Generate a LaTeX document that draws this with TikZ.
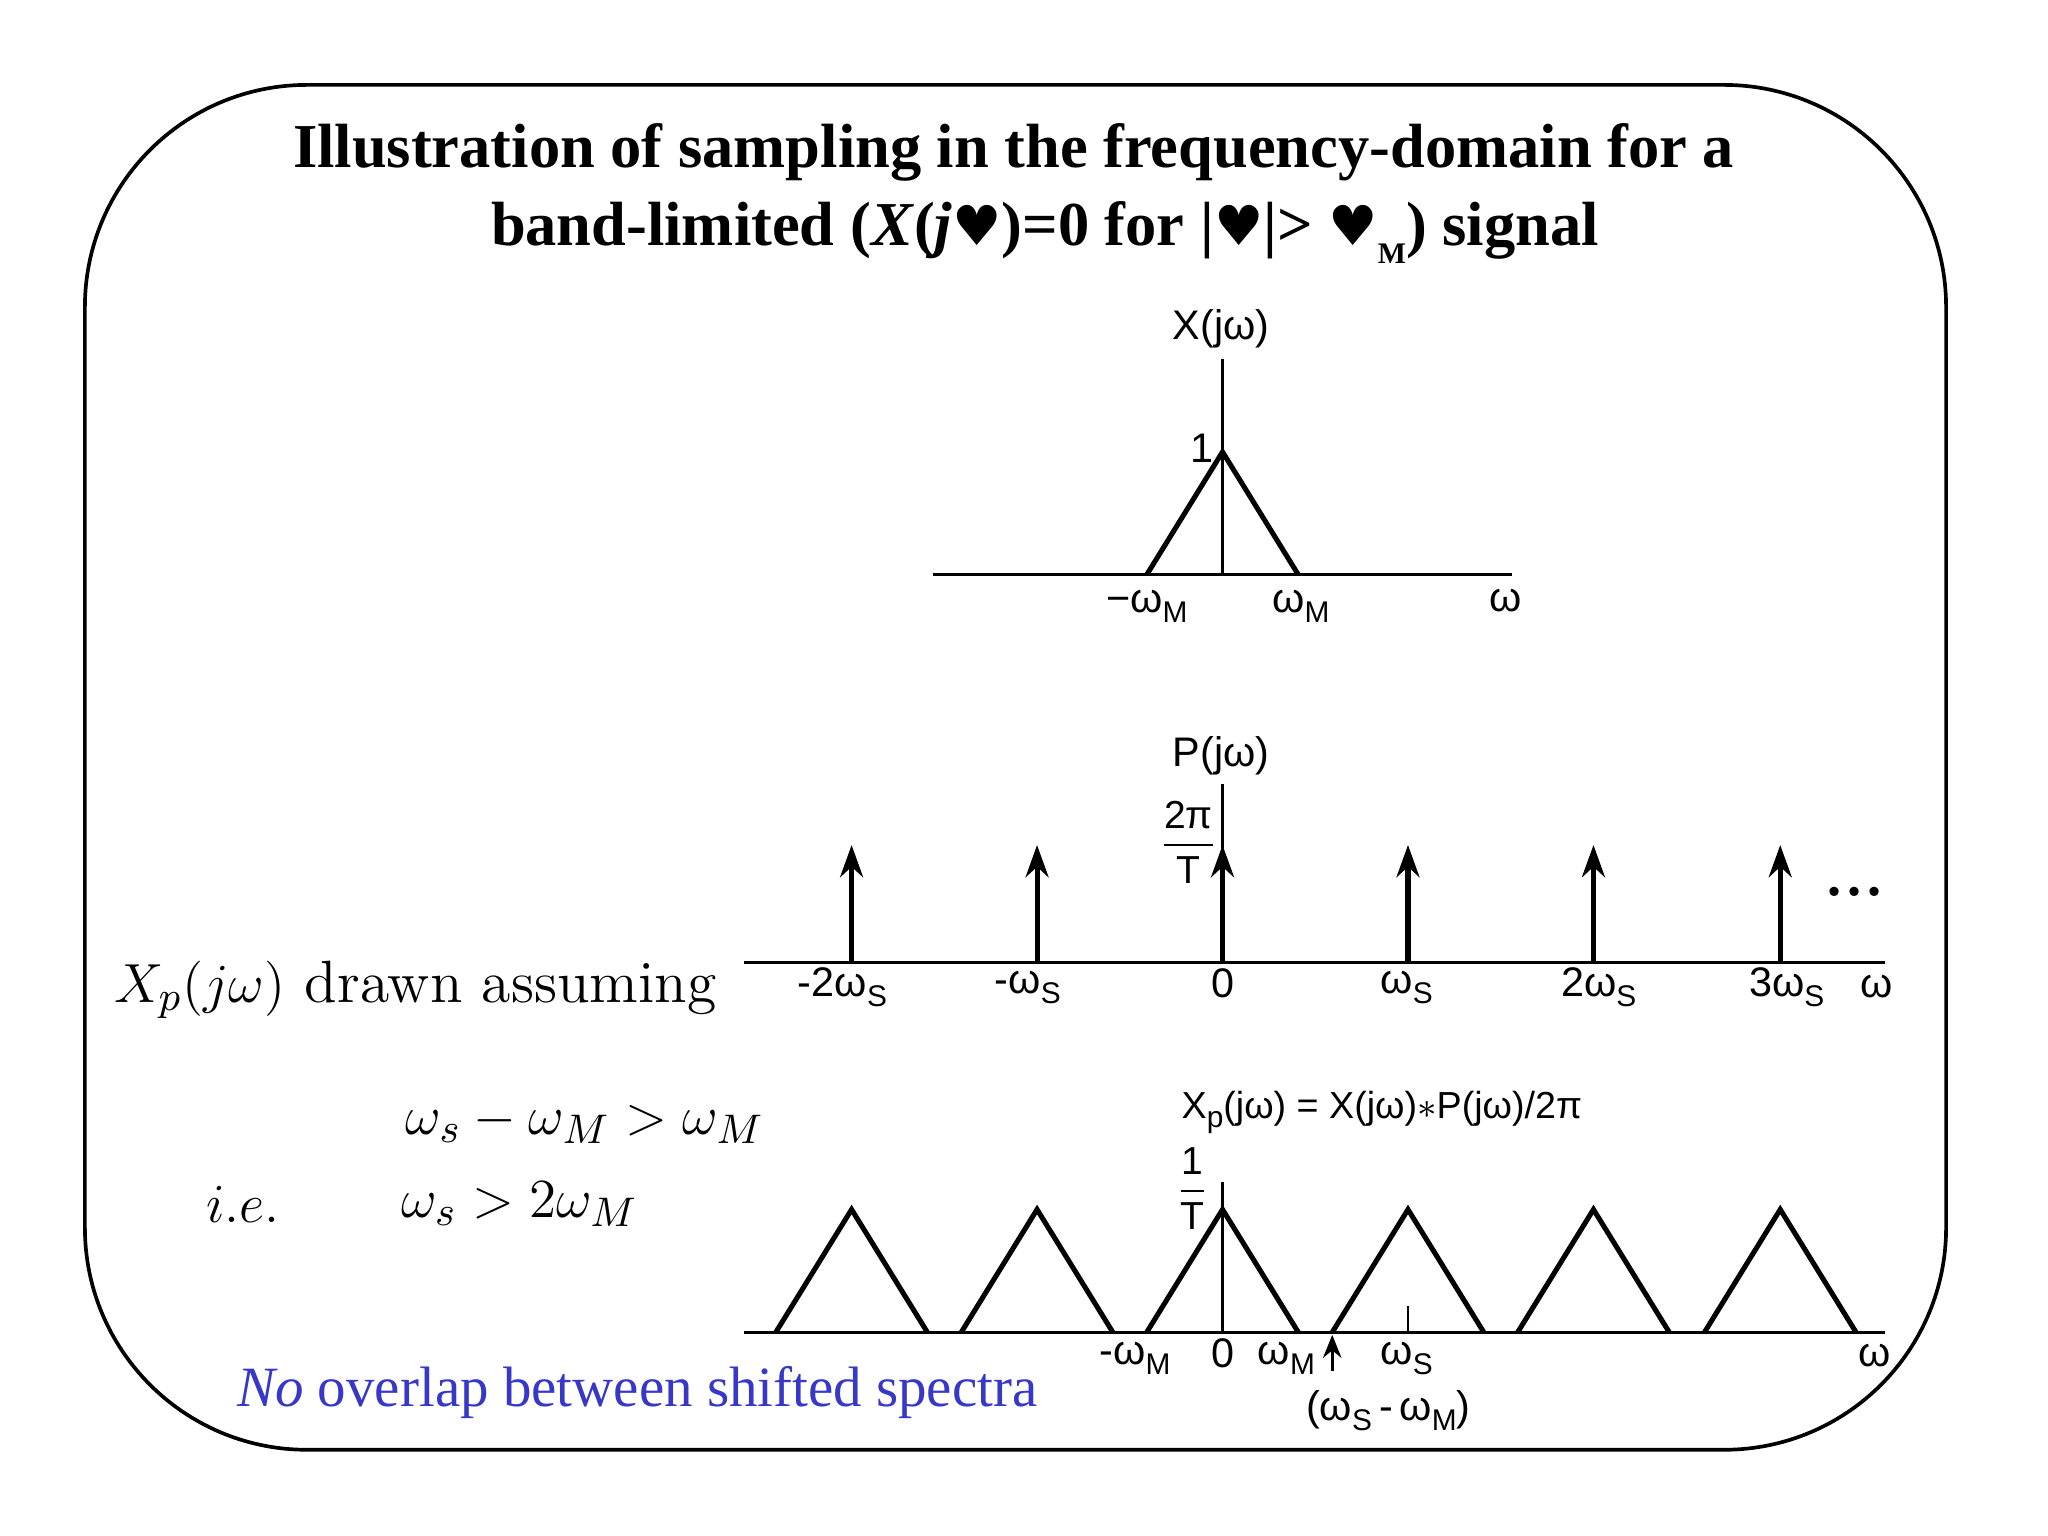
\documentclass[tikz,border=0pt]{standalone}
\usepackage{fontspec}
\setmainfont{Latin Modern Roman}
\newfontfamily\serif{Liberation Serif}
\newfontfamily\sans{Liberation Sans}
\newfontfamily\djvfont{DejaVu Sans}
\usetikzlibrary{arrows.meta}
\definecolor{bluetext}{RGB}{55,55,200}
\newcommand{\hrt}{{\djvfont\fontsize{12}{12}\selectfont ♥}}
\newcommand{\mysub}[1]{\raisebox{-0.45ex}{\fontsize{6.5}{7}\selectfont #1}}
\newcommand{\sfrac}[2]{$\displaystyle\frac{\mbox{\sans\fontsize{8.5}{9}\selectfont #1}}{\mbox{\sans\fontsize{8.5}{9}\selectfont #2}}$}
\begin{document}
\begin{tikzpicture}[x=0.01cm,y=-0.01cm,
  ax/.style={line width=0.6pt},
  sig/.style={line width=1.1pt},
  imp/.style={line width=1.1pt,-{Stealth[length=7pt,width=5pt]}},
  lab/.style={font=\sans\fontsize{9}{10}\selectfont, inner sep=0pt}]
\useasboundingbox (0,0) rectangle (1568,1176);
\draw[line width=0.8pt, rounded corners=1.7cm] (65,65) rectangle (1490,1110);
\node[font=\serif\bfseries\fontsize{13.6}{16}\selectfont] (t1) at (776,117) {Illustration of sampling in the frequency-domain for a};
\node[font=\serif\bfseries\fontsize{13.6}{16}\selectfont] (t2) at (800,178) {band-limited (\textit{X}(\textit{j}\hrt)=0 for |\hrt|> \hrt\raisebox{-0.6ex}{\fontsize{6.5}{7}\selectfont M}) signal};
% graph 1
\draw[ax] (714,440) coordinate (a1) -- (1158,440) coordinate (a2);
\draw[ax] (936,440) coordinate (v0) -- (936,275) coordinate (v1);
\draw[sig] (878,440) coordinate (p1) -- (936,346) coordinate (p2) -- (994,440) coordinate (p3);
\node[lab] (l1) at (935,252) {X(jω)};
\node[lab] (l2) at (920,343) {1};
\node[lab] (l3) at (878,464) {−ω\mysub{M}};
\node[lab] (l4) at (996,464) {ω\mysub{M}};
\node[lab] (l5) at (1153,460) {ω};
% graph 2
\draw[ax] (570,737) -- (1443,737);
\draw[ax] (936,737) -- (936,600);
\foreach \x/\n in {652/a,794/b,936/c,1078/d,1220/e,1363/f}{
  \coordinate (b\n) at (\x,737); \coordinate (u\n) at (\x,647);
  \draw[imp] (b\n) -- (u\n);}
\node[lab] (m0) at (935,579) {P(jω)};
\node[lab] (m1) at (910,645) {\sfrac{2π}{T}};
\node[font=\bfseries\fontsize{14}{14}\selectfont] (dots) at (1420,683) {...};
\node[lab] at (645,756) {-2ω\mysub{S}};
\node[lab] at (787,756) {-ω\mysub{S}};
\node[lab] at (936,753) {0};
\node[lab] at (1077,756) {ω\mysub{S}};
\node[lab] at (1224,756) {2ω\mysub{S}};
\node[lab] at (1368,756) {3ω\mysub{S}};
\node[lab] at (1437,755) {ω};
% left text
\node[font=\fontsize{13}{15}\selectfont] (txt1) at (318,758) {$X_p(j\omega)$ drawn assuming};
\node[font=\fontsize{13}{15}\selectfont] (txt2) at (448,860) {$\omega_s-\omega_M>\omega_M$};
\node[font=\fontsize{13}{15}\selectfont] (txt3) at (186,922) {$i.e.$};
\node[font=\fontsize{13}{15}\selectfont] (txt4) at (398,922) {$\omega_s>2\omega_M$};
% graph 3
\draw[ax] (570,1020) -- (1443,1020);
\draw[ax] (936,1020) -- (936,905);
\foreach \x/\n in {652/a,794/b,936/c,1078/d,1220/e,1363/f}{
  \draw[sig] (\x-58,1020) coordinate (ql\n) -- (\x,926) coordinate (qt\n) -- (\x+58,1020) coordinate (qr\n);}
\draw[ax] (1078,1000) coordinate (tk1) -- (1078,1020) coordinate (tk2);
\draw[ax,-{Stealth[length=5pt,width=4pt]}] (1020,1050) coordinate (sa) -- (1020,1022) coordinate (sb);
\node[lab,font=\sans\fontsize{8.2}{10}\selectfont] (n0) at (1058,852) {X\mysub{p}(jω) = X(jω)$*$P(jω)/2π};
\node[lab] (n1) at (913,910) {\sfrac{1}{T}};
\node[lab] at (869,1040) {-ω\mysub{M}};
\node[lab] at (936,1036) {0};
\node[lab] at (985,1040) {ω\mysub{M}};
\node[lab] at (1077,1040) {ω\mysub{S}};
\node[lab] at (1435,1038) {ω};
\node[lab] at (1063,1080) {(ω\mysub{S}\,-\,ω\mysub{M})};
\node[font=\serif\fontsize{12.4}{15}\selectfont, text=bluetext] (blue) at (488,1066) {\textit{No} overlap between shifted spectra};
\end{tikzpicture}
\end{document}
